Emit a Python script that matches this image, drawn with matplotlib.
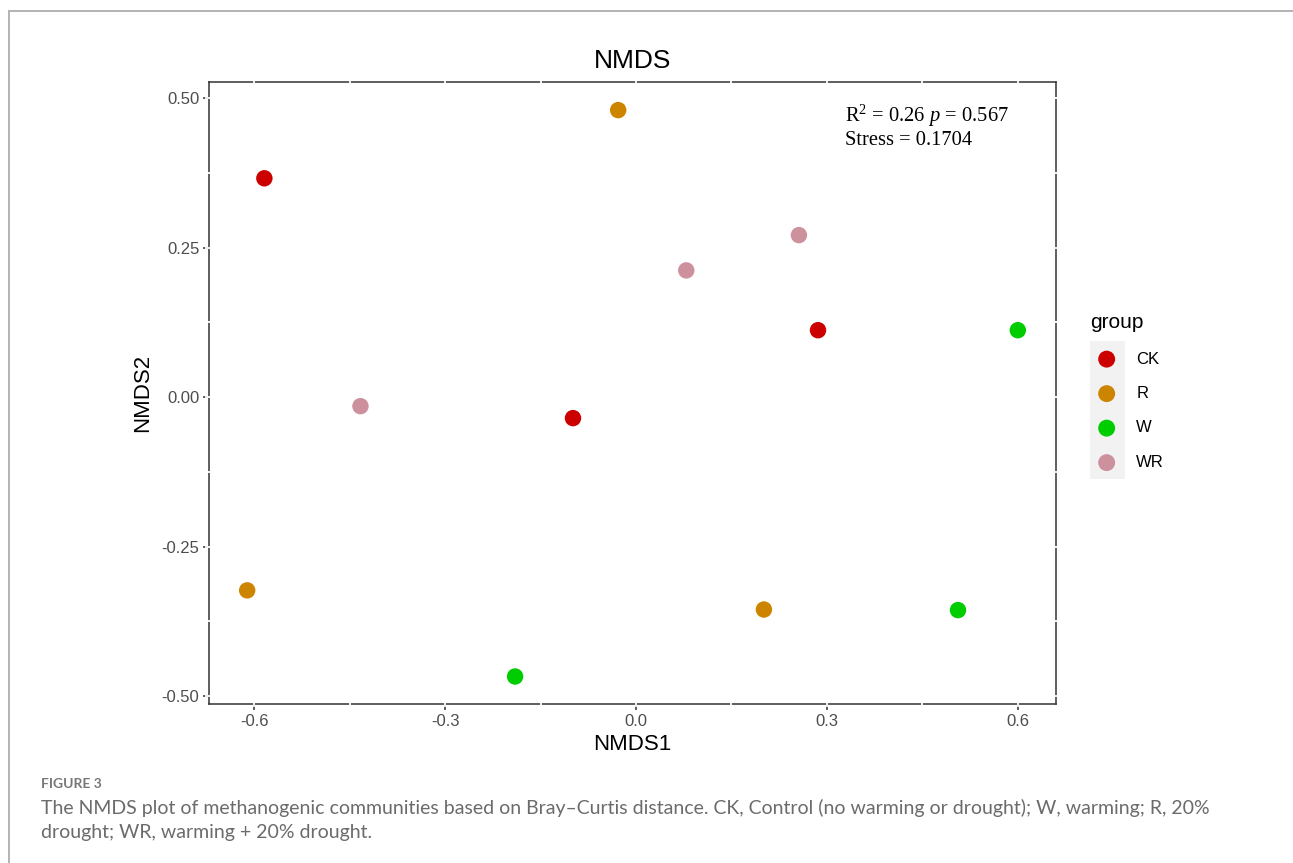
import matplotlib
matplotlib.use("Agg")
import matplotlib.pyplot as plt
from matplotlib.lines import Line2D
from matplotlib.patches import Rectangle
import numpy as np

# ---- data ----
groups = ["CK", "R", "W", "WR"]
colors = ["#CD0000", "#CD8500", "#00CD00", "#CD919E"]
ck_x = [-0.584, 0.286, -0.099]
ck_y = [0.366, 0.112, -0.035]
r_x = [-0.028, -0.611, 0.201]
r_y = [0.480, -0.323, -0.355]
w_x = [0.600, 0.506, -0.190]
w_y = [0.112, -0.356, -0.467]
wr_x = [0.256, 0.079, -0.433]
wr_y = [0.271, 0.212, -0.015]
xs = [ck_x, r_x, w_x, wr_x]
ys = [ck_y, r_y, w_y, wr_y]

x_ticks = [-0.6, -0.3, 0.0, 0.3, 0.6]
x_ticklabels = ["-0.6", "-0.3", "0.0", "0.3", "0.6"]
y_ticks = [-0.50, -0.25, 0.00, 0.25, 0.50]
y_ticklabels = ["-0.50", "-0.25", "0.00", "0.25", "0.50"]
x_minor = [-0.45, -0.15, 0.15, 0.45]
y_minor = [-0.375, -0.125, 0.125, 0.375]

title = "NMDS"
xlabel = "NMDS1"
ylabel = "NMDS2"
legend_title = "group"
stat_line1 = r"R$^{2}$ = 0.26 $p$ = 0.567"
stat_line2 = "Stress = 0.1704"
fig_label = "FIGURE 3"
caption1 = ("The NMDS plot of methanogenic communities based on Bray\u2013Curtis distance. "
            "CK, Control (no warming or drought); W, warming; R, 20%")
caption2 = "drought; WR, warming + 20% drought."

plt.rcParams["mathtext.fontset"] = "custom"
plt.rcParams["mathtext.rm"] = "Liberation Serif"
plt.rcParams["mathtext.it"] = "Liberation Serif:italic"

W, H = 1293, 863
fig = plt.figure(figsize=(W / 100, H / 100), dpi=100)
ax = fig.add_axes([209 / W, 1 - 704 / H, (1056 - 209) / W, (704 - 82) / H])

sans = "Liberation Sans"
for g, c, x, y in zip(groups, colors, xs, ys):
    ax.scatter(x, y, s=140, color=c, edgecolors="none", label=g, zorder=4)

ax.set_xlim(-0.671, 0.660)
ax.set_ylim(-0.513, 0.527)
ax.set_xticks(x_ticks)
ax.set_xticklabels(x_ticklabels)
ax.set_yticks(y_ticks)
ax.set_yticklabels(y_ticklabels)
ax.tick_params(axis="both", direction="out", length=4, width=1.1, color="#333333",
               labelsize=12, labelcolor="#4D4D4D", pad=3)
for lab in ax.get_xticklabels() + ax.get_yticklabels():
    lab.set_family(sans)
for sp in ax.spines.values():
    sp.set_color("#333333")
    sp.set_linewidth(1.1)
    sp.set_zorder(2.5)

# white grid lines crossing the panel border (ggplot style)
for xv in x_ticks + x_minor:
    ax.plot([xv, xv], [-0.004, 1.004], transform=ax.get_xaxis_transform(), color="white",
            lw=1.3, clip_on=False, zorder=3)
for yv in y_ticks + y_minor:
    ax.plot([-0.003, 1.003], [yv, yv], transform=ax.get_yaxis_transform(), color="white",
            lw=1.3, clip_on=False, zorder=3)

ax.set_title(title, family=sans, fontsize=19, pad=10)
ax.set_xlabel(xlabel, family=sans, fontsize=16, labelpad=4)
ax.set_ylabel(ylabel, family=sans, fontsize=16, labelpad=6)

ax.text(0.328, 0.460, stat_line1, family="Liberation Serif", fontsize=14.8, ha="left", va="baseline")
ax.text(0.328, 0.421, stat_line2, family="Liberation Serif", fontsize=14.8, ha="left", va="baseline")

# legend
key_bg = Rectangle((1090 / W, 1 - 479 / H), 35 / W, 138 / H, transform=fig.transFigure,
                   facecolor="#F2F2F2", edgecolor="none", zorder=-5)
fig.add_artist(key_bg)
ax.set_zorder(1)
ax.patch.set_alpha(1.0)
leg = ax.legend(loc="upper left", bbox_to_anchor=(1090 / W, 1 - 313 / H), bbox_transform=fig.transFigure,
                frameon=False, title=legend_title, prop={"family": sans, "size": 12},
                handletextpad=0.78, labelspacing=1.17, markerscale=1.03, alignment="left",
                borderaxespad=0, borderpad=0, handlelength=2.0)
leg.get_title().set_family(sans)
leg.get_title().set_fontsize(15)

# outer frame
fig.add_artist(Line2D([9 / W, 1.0], [1 - 11 / H, 1 - 11 / H], transform=fig.transFigure, color="#B3B3B3", lw=1.4))
fig.add_artist(Line2D([9 / W, 9 / W], [1 - 11 / H, 0.0], transform=fig.transFigure, color="#B3B3B3", lw=1.4))

# caption
fig.text(41 / W, 1 - 784 / H, fig_label, family="Lato", fontweight="bold", fontsize=10, color="#777777", va="center")
fig.text(41 / W, 1 - 808 / H, caption1, family="Lato", fontsize=14, color="#6B6B6B", va="center")
fig.text(41 / W, 1 - 832 / H, caption2, family="Lato", fontsize=14, color="#6B6B6B", va="center")

fig.savefig("out.png", dpi=100)
